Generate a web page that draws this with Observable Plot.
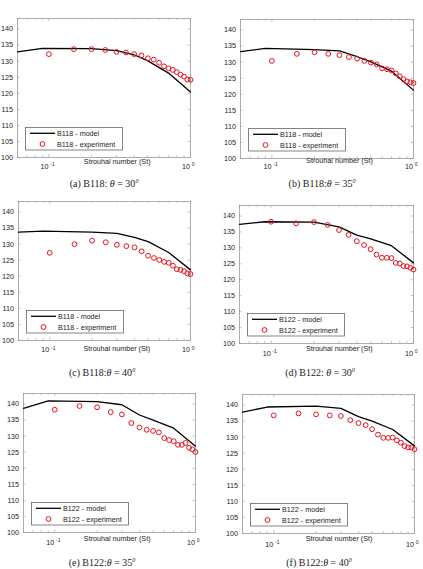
<!DOCTYPE html>
<html>
<head>
<meta charset="utf-8">
<script src="https://cdn.jsdelivr.net/npm/d3@7"></script>
<script src="https://cdn.jsdelivr.net/npm/@observablehq/plot@0.6"></script>
<style>
  body { margin: 0; background: #fff; }
  #root { position: relative; width: 423px; height: 569px; overflow: hidden; background: #fff; }
  .panel { position: absolute; }
  .cap { position: absolute; font-family: "Liberation Serif", "Times New Roman", serif; font-size: 10px; color: #222; white-space: nowrap; transform: translate(-50%, -50%); line-height: 1; }
  .cap sup { font-size: 6px; vertical-align: 4px; font-style: italic; }
  .leg { position: absolute; }
</style>
</head>
<body>
<div id="root"></div>
<script>
// ---------- data ----------
const stExp = [0.1, 0.15, 0.2, 0.25, 0.3, 0.35, 0.4, 0.45, 0.5, 0.55, 0.6, 0.65, 0.7, 0.75, 0.8, 0.85, 0.9, 0.95, 1.0];
const stModel = [0.06, 0.09, 0.2, 0.3, 0.4, 0.5, 0.7, 1.0];

const modelA = [132.9, 134.0, 133.9, 133.3, 132.0, 130.1, 126.3, 120.4];
const modelB = [133.3, 134.3, 133.9, 133.5, 131.7, 130.1, 127.2, 121.3];
const modelC = [133.75, 134.1, 133.75, 133.4, 132.1, 130.8, 127.4, 122.0];
const modelD = [137.4, 138.2, 138.1, 136.6, 134.0, 132.8, 130.7, 125.3];
const modelE = [138.7, 141.0, 140.8, 139.8, 136.6, 135.0, 132.5, 126.9];
const modelF = [137.8, 139.4, 139.7, 139.0, 136.4, 135.0, 132.4, 127.3];

const expA = [132.2, 133.75, 133.75, 133.5, 132.9, 132.7, 132.2, 131.8, 130.9, 130.5, 129.5, 128.4, 127.8, 127.3, 126.6, 125.8, 125.2, 124.3, 124.2];
const expB = [130.4, 132.6, 133.1, 132.6, 132.2, 131.6, 131.1, 130.4, 129.9, 129.3, 128.1, 127.8, 127.4, 126.5, 125.6, 124.7, 124.0, 123.75, 123.5];
const expC = [127.3, 130.0, 131.1, 130.6, 129.8, 129.4, 129.0, 127.8, 126.4, 125.7, 125.1, 124.5, 124.2, 123.3, 122.2, 122.0, 121.6, 120.9, 120.7];
const expD = [138.2, 137.7, 138.1, 137.2, 135.6, 134.1, 132.1, 130.9, 129.6, 127.9, 126.9, 126.9, 126.8, 125.3, 125.1, 124.3, 124.2, 123.75, 123.2];
const expE = [138.25, 139.4, 139.0, 137.5, 136.8, 134.1, 132.7, 132.0, 131.65, 131.2, 129.4, 128.8, 128.45, 127.3, 127.3, 127.9, 126.4, 125.9, 125.05];
const expF = [136.8, 137.4, 137.1, 136.8, 136.6, 135.3, 134.4, 133.75, 132.5, 130.8, 129.8, 129.8, 129.9, 129.0, 128.3, 127.2, 126.8, 126.8, 126.25];

const yTicks = [100, 105, 110, 115, 120, 125, 130, 135, 140];
const xTicks = [0.1, 1];
const xMinorTicks = [0.06, 0.07, 0.08, 0.09, 0.2, 0.3, 0.4, 0.5, 0.6, 0.7, 0.8, 0.9];
const panelLetters = ["a", "b", "c", "d", "e", "f"];
const seriesNames = ["B118", "B118", "B118", "B122", "B122", "B122"];
const angles = [30, 35, 40, 30, 35, 40];
const colonSpace = [" ", "", "", " ", "", ""];
const xLabel = "Strouhal number (St)";
const modelSuffix = " - model";
const expSuffix = " - experiment";

const models = [modelA, modelB, modelC, modelD, modelE, modelF];
const exps = [expA, expB, expC, expD, expE, expF];

// ---------- layout (pixels) ----------
const layout = [
  {L: 17,  R: 190, T: 18,  B: 157, lblDx: 13.2, lblDy: 6.0,  tkDy: 11.3, capX: 104, capY: 183},
  {L: 240, R: 413, T: 19,  B: 158, lblDx: 12.5, lblDy: 4.7,  tkDy: 10.3, capX: 322, capY: 183},
  {L: 18,  R: 190, T: 201, B: 340, lblDx: 12.3, lblDy: 10.7, tkDy: 11.7, capX: 102, capY: 371.7},
  {L: 239, R: 413, T: 205, B: 343, lblDx: 12.8, lblDy: 7.7,  tkDy: 12.0, capX: 320, capY: 371.7},
  {L: 23,  R: 195, T: 393, B: 532, lblDx: 7.7,  lblDy: 8.7,  tkDy: 12.0, capX: 102, capY: 561.7},
  {L: 242, R: 414, T: 394, B: 533, lblDx: 10.5, lblDy: 7.0,  tkDy: 13.5, capX: 319, capY: 562}
];

const root = document.getElementById("root");
const font = "'Liberation Sans', Arial, Helvetica, sans-serif";
const frameColor = "#9a9a9a";
const red = "#e8121c";

for (let i = 0; i < 6; i++) {
  const g = layout[i];
  const mL = 20, mR = 8, mT = 6, mB = 22;
  const fw = g.R - g.L, fh = g.B - g.T;
  const model = stModel.map((s, j) => ({st: s, spl: models[i][j]}));
  const exp = stExp.map((s, j) => ({st: s, spl: exps[i][j]}));

  const svg = Plot.plot({
    width: fw + mL + mR,
    height: fh + mT + mB,
    marginLeft: mL, marginRight: mR, marginTop: mT, marginBottom: mB,
    x: {type: "log", domain: [0.06, 1], axis: null},
    y: {domain: [100, 143.3], axis: null},
    style: {fontFamily: font, fontSize: "7.2px", background: "transparent", color: "#222", overflow: "visible"},
    marks: [
      Plot.tickX(xMinorTicks, {x: d => d, insetTop: fh - 1.8, stroke: frameColor, strokeWidth: 0.6}),
      Plot.tickX(xMinorTicks, {x: d => d, insetBottom: fh - 1.8, stroke: frameColor, strokeWidth: 0.6}),
      Plot.tickX(xTicks, {x: d => d, insetTop: fh - 3, stroke: frameColor, strokeWidth: 0.6}),
      Plot.tickX(xTicks, {x: d => d, insetBottom: fh - 3, stroke: frameColor, strokeWidth: 0.6}),
      Plot.tickY(yTicks, {y: d => d, insetLeft: fw - 2.5, stroke: frameColor, strokeWidth: 0.6}),
      Plot.tickY(yTicks, {y: d => d, insetRight: fw - 2.5, stroke: frameColor, strokeWidth: 0.6}),
      Plot.frame({stroke: frameColor, strokeWidth: 0.8}),
      Plot.line(model, {x: "st", y: "spl", stroke: "#000", strokeWidth: 1.3}),
      Plot.dot(exp, {x: "st", y: "spl", r: 2.4, stroke: red, strokeWidth: 1, fill: "none"}),
      Plot.text(yTicks, {y: d => d, text: d => String(d), frameAnchor: "left", dx: -4.5, textAnchor: "end", fontSize: 7.2, fill: "#222"}),
      Plot.text(xTicks, {x: d => d, text: () => "10", frameAnchor: "bottom", dy: g.tkDy, dx: -0.4, textAnchor: "end", fontSize: 7.2, fill: "#222"}),
      Plot.text(xTicks, {x: d => d, text: d => String(Math.round(Math.log10(d))), frameAnchor: "bottom", dy: g.tkDy - 2.7, dx: 1.3, textAnchor: "start", fontSize: 5, fill: "#222"}),
      Plot.text([xLabel], {text: d => d, frameAnchor: "bottom", dx: g.lblDx, dy: g.lblDy, fontSize: 7.2, fill: "#222"})
    ]
  });
  const wrap = document.createElement("div");
  wrap.className = "panel";
  wrap.style.left = (g.L - mL) + "px";
  wrap.style.top = (g.T - mT) + "px";
  wrap.appendChild(svg);
  root.appendChild(wrap);

  // legend (box inside the lower-left of the frame)
  const lw = 97, lh = 22.5;
  const lx = g.L + 7.5, ly = g.B - 7.5 - lh;
  const leg = d3.select(root).append("svg")
    .attr("class", "leg")
    .style("left", lx + "px").style("top", ly + "px")
    .attr("width", lw + 1).attr("height", lh + 1)
    .style("font-family", font).style("font-size", "7.2px");
  leg.append("rect").attr("x", 0.5).attr("y", 0.5).attr("width", lw).attr("height", lh)
    .attr("fill", "#fff").attr("stroke", "#666").attr("stroke-width", 0.8);
  leg.append("line").attr("x1", 5).attr("x2", 30).attr("y1", 6.3).attr("y2", 6.3)
    .attr("stroke", "#000").attr("stroke-width", 1.3);
  leg.append("circle").attr("cx", 17.5).attr("cy", 17).attr("r", 2.4)
    .attr("fill", "none").attr("stroke", red).attr("stroke-width", 1);
  leg.append("text").attr("x", 32).attr("y", 6.3).attr("dy", "0.35em").attr("fill", "#222")
    .text(seriesNames[i] + modelSuffix);
  leg.append("text").attr("x", 32).attr("y", 17).attr("dy", "0.35em").attr("fill", "#222")
    .text(seriesNames[i] + expSuffix);

  // caption
  const cap = document.createElement("div");
  cap.className = "cap";
  cap.style.left = g.capX + "px";
  cap.style.top = g.capY + "px";
  cap.innerHTML = "(" + panelLetters[i] + ") " + seriesNames[i] + ":" + colonSpace[i] +
    "<i>θ</i> = " + angles[i] + "<sup>0</sup>";
  root.appendChild(cap);
}
</script>
</body>
</html>
